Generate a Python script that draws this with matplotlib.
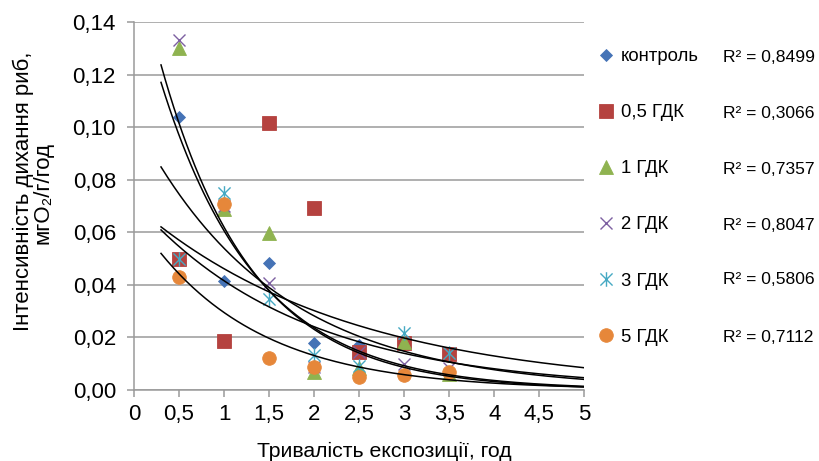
import numpy as np
import matplotlib
matplotlib.use('Agg')
import matplotlib.pyplot as plt
from matplotlib.path import Path
from matplotlib.ticker import FuncFormatter, MultipleLocator

plt.rcParams['font.family'] = ['Liberation Sans', 'DejaVu Sans']

# тривалість експозиції, год
hours = [0.5, 1, 1.5, 2, 2.5, 3, 3.5]

# інтенсивність дихання, мгО2/г/год
kontrol = [0.104, 0.0416, 0.0484, 0.018, 0.017, 0.017, 0.013]
gdk_05 = [0.050, 0.0186, 0.1017, 0.0691, 0.0143, 0.018, 0.0136]
gdk_1 = [0.130, 0.069, 0.0596, 0.007, 0.0084, 0.0184, 0.006]
gdk_2 = [0.1332, 0.070, 0.0406, 0.0088, 0.0146, 0.010, 0.0085]
gdk_3 = [0.050, 0.0748, 0.0345, 0.0133, 0.009, 0.0216, 0.014]
gdk_5 = [0.0429, 0.0708, 0.0121, 0.0089, 0.0051, 0.0057, 0.007]

labels = ['контроль', '0,5 ГДК', '1 ГДК', '2 ГДК', '3 ГДК', '5 ГДК']
r2_text = ['0,8499', '0,3066', '0,7357', '0,8047', '0,5806', '0,7112']

# excel-like "star" marker: x with vertical bar
star = Path([(-1, -1), (1, 1), (-1, 1), (1, -1), (0, -1.2), (0, 1.2)],
            [Path.MOVETO, Path.LINETO, Path.MOVETO, Path.LINETO, Path.MOVETO, Path.LINETO])

styles = [
    dict(marker='D', color='#4573B6', ms=6.6),
    dict(marker='s', color='#B5423F', ms=9.4),
    dict(marker='^', color='#8FB350', ms=9.6),
    dict(marker='x', color='#7D60A1', ms=8.4, mew=1.0),
    dict(marker=star, color='#46A9C3', ms=10.5, mew=1.0),
    dict(marker='o', color='#E6873A', ms=9.8),
]

series = [kontrol, gdk_05, gdk_1, gdk_2, gdk_3, gdk_5]

fig = plt.figure(figsize=(8.2, 4.61), dpi=100)
ax = fig.add_axes([134/820, 1-390/461, (584.3-134)/820, (390-22)/461])

x = np.array(hours)
xt = np.linspace(0.3, 5, 200)
handles = []
for vals, st in zip(series, styles):
    y = np.array(vals)
    mew = st.get('mew', 0.6)
    h, = ax.plot(x, y, linestyle='none', marker=st['marker'], ms=st['ms'],
                 color=st['color'], mec=st['color'], mew=mew, zorder=3, clip_on=False)
    handles.append(h)
    # експоненціальна лінія тренду (як в Excel)
    b, lna = np.polyfit(x, np.log(y), 1)
    ax.plot(xt, np.exp(lna) * np.exp(b * xt), color='black', lw=1.1, zorder=4)

ax.set_xlim(0, 5)
ax.set_ylim(0, 0.14)
ax.xaxis.set_major_locator(MultipleLocator(0.5))
ax.yaxis.set_major_locator(MultipleLocator(0.02))
ax.xaxis.set_major_formatter(FuncFormatter(lambda v, p: ('%g' % v).replace('.', ',')))
ax.yaxis.set_major_formatter(FuncFormatter(lambda v, p: ('%.2f' % v).replace('.', ',')))

grey = '#9A9A9A'
ax.grid(axis='y', color=grey, lw=1.1)
ax.set_axisbelow(True)
for s in ['top', 'right']:
    ax.spines[s].set_visible(False)
for s in ['left', 'bottom']:
    ax.spines[s].set_color(grey)
    ax.spines[s].set_linewidth(1.1)
ax.tick_params(axis='both', colors=grey, length=5, width=1.1, labelsize=16, labelcolor='black')
ax.tick_params(axis='x', pad=5)
ax.tick_params(axis='y', pad=8)

fig.text(384/820, 1-451/461, 'Тривалість експозиції, год', ha='center', va='center', fontsize=15.3)
fig.text(23/820, 1-191/461, 'Інтенсивність дихання риб,', ha='center', va='center',
         rotation=90, fontsize=16)
fig.text(43/820, 1-193/461, 'мгО₂/г/год', ha='center', va='center',
         rotation=90, fontsize=16)

leg = fig.legend(handles, labels, loc='upper left', bbox_to_anchor=(599/820, 1-48/461),
                 frameon=False, fontsize=13.3, handlelength=0.8, handletextpad=0.4,
                 labelspacing=2.12, borderpad=0, borderaxespad=0, numpoints=1)

row_y = [58, 113, 169, 225, 280, 337]
for ry, r in zip(row_y, r2_text):
    fig.text(723/820, 1-ry/461, 'R² = ' + r, ha='left', va='center', fontsize=12.6)

fig.savefig('out.png', dpi=100)
